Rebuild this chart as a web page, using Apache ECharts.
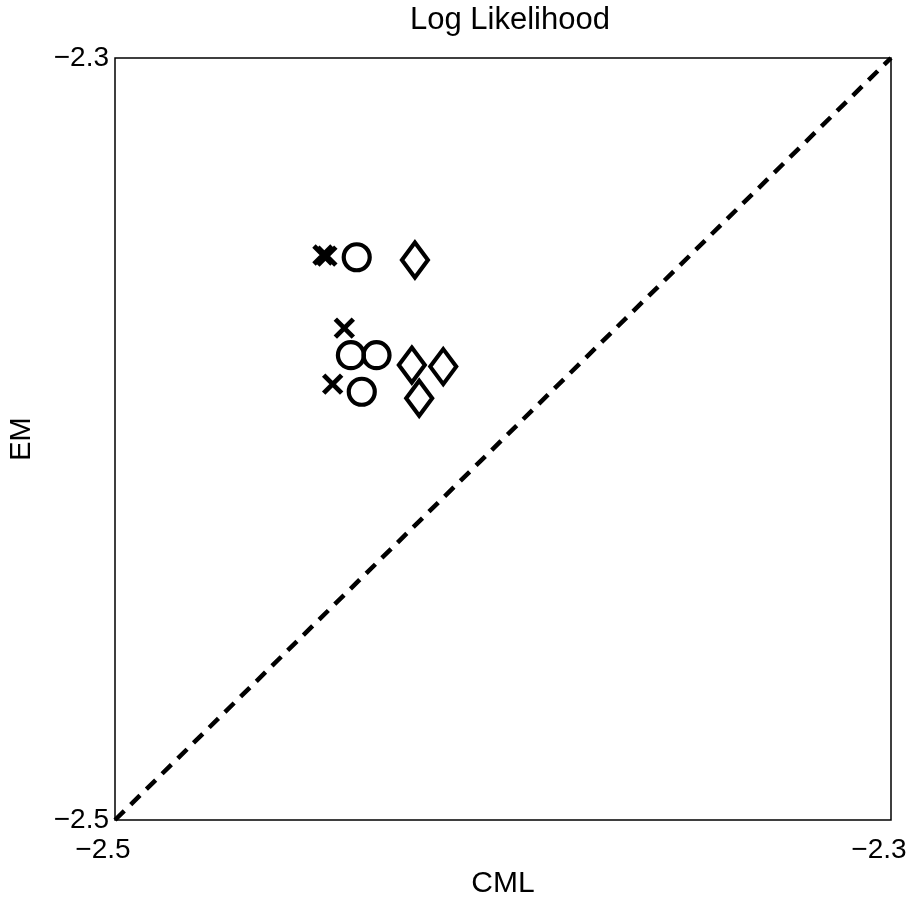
<!DOCTYPE html>
<html>
<head>
<meta charset="utf-8">
<script src="https://cdn.jsdelivr.net/npm/echarts@6/dist/echarts.min.js"></script>
<style>
  html, body { margin: 0; padding: 0; background: #fff; }
  #chart { width: 916px; height: 898px; }
</style>
</head>
<body>
<div id="chart"></div>
<script>
// Axis range shared by both axes (CML on x, EM on y)
const axisMin = -2.5;
const axisMax = -2.3;
const tickLabels = ['\u22122.5', '\u22122.3'];

// Log-likelihood pairs [CML, EM] for each model family
const crossPoints = [[-2.4464, -2.3517], [-2.4454, -2.3520], [-2.4409, -2.3709], [-2.4439, -2.3856]];
const circlePoints = [[-2.4377, -2.3523], [-2.4392, -2.3780], [-2.4326, -2.3780], [-2.4364, -2.3876]];
const diamondPoints = [[-2.4227, -2.3530], [-2.4235, -2.3806], [-2.4154, -2.3810], [-2.4216, -2.3893]];

// Equality reference line
const diagonal = [[axisMin, axisMin], [axisMax, axisMax]];

const FONT = 'Liberation Sans, Arial, Helvetica, sans-serif';

function labelFor(v) {
  if (Math.abs(v - axisMin) < 1e-6) return tickLabels[0];
  if (Math.abs(v - axisMax) < 1e-6) return tickLabels[1];
  return '';
}

const hollow = { color: 'none', borderColor: '#000', borderWidth: 4.2, opacity: 1 };

const chart = echarts.init(document.getElementById('chart'));
chart.setOption({
  backgroundColor: '#fff',
  animation: false,
  title: {
    text: 'Log Likelihood',
    left: 505, top: 0, textAlign: 'center',
    textStyle: { fontFamily: FONT, fontSize: 31, fontWeight: 'normal', color: '#000' }
  },
  grid: {
    left: 115, right: 25, top: 58, bottom: 78,
    containLabel: false, outerBoundsMode: 'none',
    show: true, borderColor: '#000', borderWidth: 1.5, backgroundColor: 'transparent'
  },
  xAxis: {
    type: 'value', min: axisMin, max: axisMax, interval: 0.1,
    name: 'CML', nameLocation: 'middle', nameGap: 40,
    nameTextStyle: { fontFamily: FONT, fontSize: 30, color: '#000' },
    axisLine: { show: false }, axisTick: { show: false }, splitLine: { show: false },
    axisLabel: { formatter: labelFor, fontFamily: FONT, fontSize: 28, color: '#000', margin: 16, padding: [0, 24, 0, 0], showMinLabel: true, showMaxLabel: true }
  },
  yAxis: {
    type: 'value', min: axisMin, max: axisMax, interval: 0.1,
    name: 'EM', nameLocation: 'middle', nameGap: 79,
    nameTextStyle: { fontFamily: FONT, fontSize: 29, color: '#000' },
    axisLine: { show: false }, axisTick: { show: false }, splitLine: { show: false },
    axisLabel: { formatter: labelFor, fontFamily: FONT, fontSize: 28, color: '#000', margin: 6, showMinLabel: true, showMaxLabel: true }
  },
  series: [
    {
      type: 'line', data: diagonal, symbol: 'none', silent: true,
      lineStyle: { color: '#000', width: 4.5, type: [13, 9] }, z: 1
    },
    {
      type: 'scatter', data: crossPoints, symbol: 'path://M0,0L10,10M10,0L0,10',
      symbolSize: 18, itemStyle: { color: 'none', borderColor: '#000', borderWidth: 4.8, opacity: 1 }, z: 3
    },
    {
      type: 'scatter', data: circlePoints, symbol: 'circle',
      symbolSize: 26, itemStyle: hollow, z: 3
    },
    {
      type: 'scatter', data: diamondPoints, symbol: 'diamond',
      symbolSize: [26, 35], itemStyle: hollow, z: 3
    }
  ]
});
</script>
</body>
</html>
